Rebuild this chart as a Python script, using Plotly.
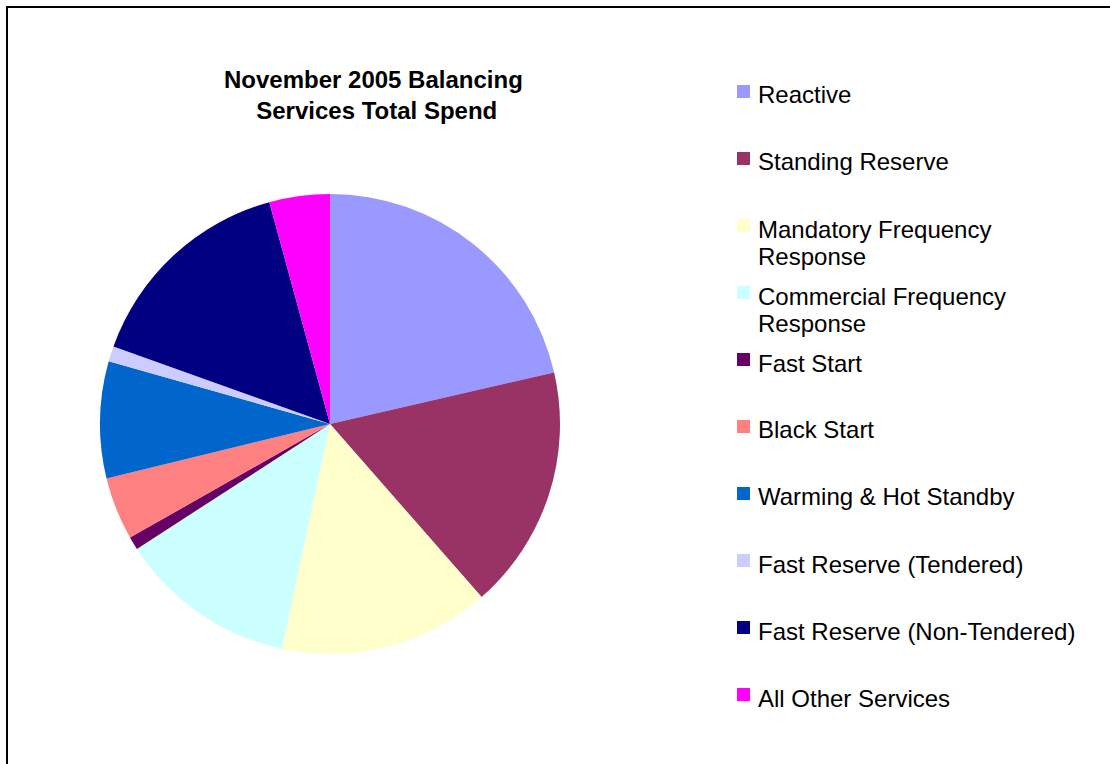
import plotly.graph_objects as go

W, H = 1110, 764

services = ["Reactive", "Standing Reserve", "Mandatory Frequency<br>Response",
            "Commercial Frequency<br>Response", "Fast Start", "Black Start",
            "Warming & Hot Standby", "Fast Reserve (Tendered)",
            "Fast Reserve (Non-Tendered)", "All Other Services"]
spend_pct = [21.40, 17.15, 14.81, 12.50, 0.92, 4.42, 8.19, 1.08, 15.28, 4.25]
colors = ["#9999FF", "#993366", "#FFFFCC", "#CCFFFF", "#660066",
          "#FF8080", "#0066CC", "#CCCCFF", "#000080", "#FF00FF"]

def px_x(x):
    return x / W

def px_y(y):
    return 1 - y / H

fig = go.Figure(go.Pie(
    labels=[s.replace("<br>", " ") for s in services],
    values=spend_pct,
    marker=dict(colors=colors, line=dict(width=0)),
    sort=False, direction="clockwise", rotation=0,
    textinfo="none", hoverinfo="label+percent",
    showlegend=False,
    domain=dict(x=[px_x(100), px_x(560)], y=[px_y(654), px_y(194)]),
))

font = "Liberation Sans, Arial, sans-serif"

# chart title
fig.add_annotation(x=px_x(373), y=px_y(95), xref="paper", yref="paper",
                   text="<b>November 2005 Balancing<br> Services Total Spend</b>",
                   showarrow=False, xanchor="center", yanchor="middle",
                   font=dict(family=font, size=24, color="black"))

# hand-placed legend
for i, (name, col) in enumerate(zip(services, colors)):
    yc = 95 + 67 * i
    fig.add_shape(type="rect", xref="paper", yref="paper",
                  x0=px_x(737), x1=px_x(750), y0=px_y(yc - 10), y1=px_y(yc + 3),
                  fillcolor=col, line=dict(width=0))
    for k, line in enumerate(name.split("<br>")):
        fig.add_annotation(x=px_x(756), y=px_y(yc + 28 * k), xref="paper", yref="paper",
                           text=line, showarrow=False, xanchor="left", yanchor="middle",
                           font=dict(family=font, size=24, color="black"))

# outer frame
fig.add_shape(type="rect", xref="paper", yref="paper",
              x0=px_x(7), x1=px_x(1130), y0=px_y(790), y1=px_y(7),
              line=dict(color="black", width=2), fillcolor="rgba(0,0,0,0)")

fig.update_layout(width=W, height=H, margin=dict(l=0, r=0, t=0, b=0),
                  paper_bgcolor="white", plot_bgcolor="white")

fig.write_html("out.html", config={"displayModeBar": False},
               post_script="document.body.style.margin='0';")
